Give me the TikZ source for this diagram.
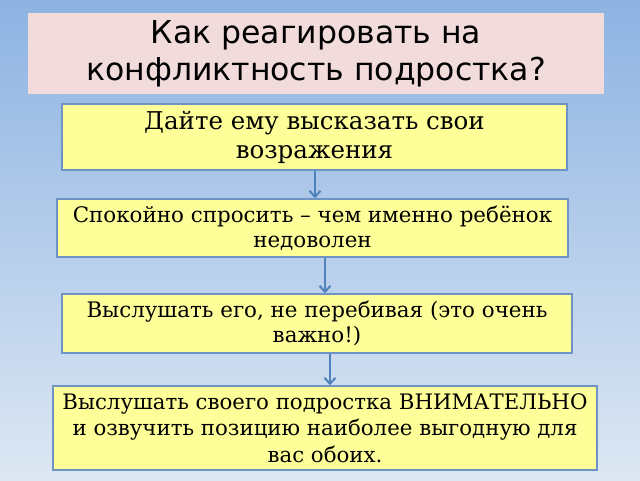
\documentclass[tikz,border=0pt]{standalone}
\usepackage{fontspec}
\setmainfont{DejaVu Serif}
\newfontfamily\titlefont{DejaVu Sans}
\definecolor{bgtop}{HTML}{8DB3E2}
\definecolor{bgbottom}{HTML}{DDE7F3}
\definecolor{titlepink}{HTML}{F2DCDB}
\definecolor{boxyellow}{HTML}{FFFF99}
\definecolor{boxline}{HTML}{6F94C4}
\definecolor{arrowblue}{HTML}{4F81BD}
\usetikzlibrary{arrows.meta}

\begin{document}
\begin{tikzpicture}[x=1pt,y=-1pt]
            \tikzstyle{title}=[fill=titlepink,text=black,align=center,inner sep=0pt,font=\titlefont\fontsize{31.5}{37}\selectfont]
            \tikzstyle{stepbox}=[draw=boxline,line width=1.5pt,fill=boxyellow,align=center,inner sep=0pt,font=\fontsize{21.4}{25}\selectfont]
            \tikzstyle{flow}=[draw=arrowblue,line width=2pt,-{Straight Barb[length=6pt,width=11pt]}]

            % Background
            \shade[top color=bgtop,bottom color=bgbottom] (0,0) rectangle (640,480);
            \useasboundingbox (0,0) rectangle (640,480);

            % Title
            \node[title, minimum width=576pt, minimum height=81pt] (TITLE) at (316,53.5)
                {Как реагировать на\\конфликтность подростка?};

            % Steps
            \node[stepbox, minimum width=505pt, minimum height=66pt, font=\fontsize{24.5}{29}\selectfont] (S-1) at (314.5,137)
                {Дайте ему высказать свои\\возражения};
            \node[stepbox, minimum width=511pt, minimum height=58pt] (S-2) at (312.5,228)
                {Спокойно спросить – чем именно ребёнок\\недоволен};
            \node[stepbox, minimum width=510pt, minimum height=59pt] (S-3) at (317,323.5)
                {Выслушать его, не перебивая (это очень\\важно!)};
            \node[stepbox, minimum width=544pt, minimum height=84pt, font=\fontsize{21.3}{26.5}\selectfont] (S-4) at (325,428)
                {Выслушать своего подростка ВНИМАТЕЛЬНО\\и озвучить позицию наиболее выгодную для\\вас обоих.};

            % Connect the steps
            \draw[flow] (S-1.south -| 315,0) -- (S-2.north -| 315,0);
            \draw[flow] (S-2.south -| 325,0) -- (S-3.north -| 325,0);
            \draw[flow] (S-3.south -| 330,0) -- (S-4.north -| 330,0);
        \end{tikzpicture}
\end{document}
